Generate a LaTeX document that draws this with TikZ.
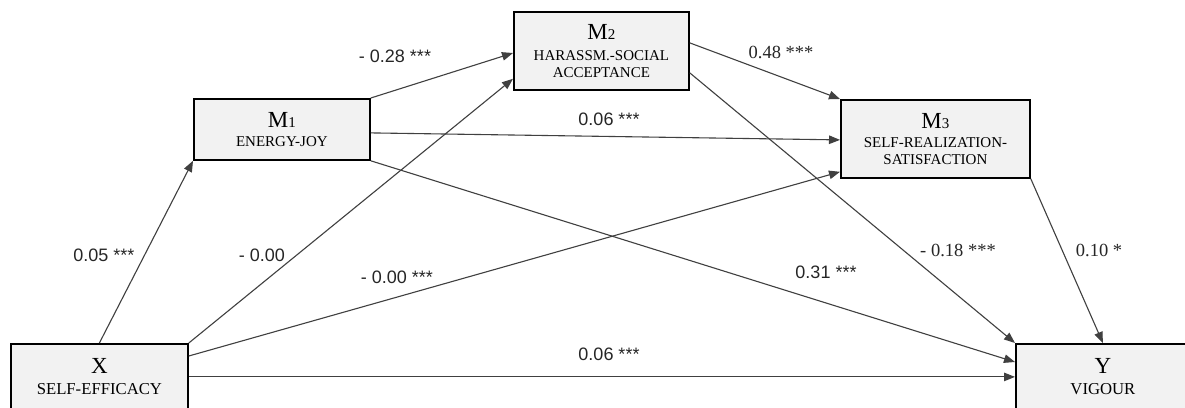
\documentclass[tikz,border=0pt]{standalone}
\usepackage{fontspec}
\setmainfont{Liberation Serif}
\newfontfamily\labfont{Liberation Sans}
\usetikzlibrary{arrows.meta,calc}
\definecolor{boxfill}{HTML}{F2F2F2}
\definecolor{linecol}{HTML}{404040}
\tikzset{
  varbox/.style={draw=black, line width=1.8pt, fill=boxfill, rectangle, anchor=north west,
    inner sep=0pt, align=center, font=\fontsize{15}{17}\selectfont},
  bigbox/.style={varbox, font=\fontsize{16.7}{19}\selectfont},
  arrowpath/.style={draw=linecol, line width=1.1pt, -{Triangle[length=11pt,width=8.5pt]}},
  coef/.style={font=\labfont\fontsize{18}{20}\selectfont, text=black!85, inner sep=0pt},
  coefserif/.style={font=\rmfamily\fontsize{18.5}{20}\selectfont, text=black!85, inner sep=0pt},
}
\newcommand{\bigletter}[1]{{\fontsize{23}{24}\selectfont #1}}
\begin{document}
\begin{tikzpicture}[x=1pt,y=-1pt]
\clip (0,0) rectangle (1185,407);
\fill[white] (0,0) rectangle (1185,407);
% boxes
\node[bigbox, minimum width=177pt, minimum height=66pt] (x) at (10,343) {\bigletter{X}\\[2pt]SELF-EFFICACY};
\node[varbox, minimum width=176pt, minimum height=61pt] (m1) at (193,98) {\bigletter{M}1\\[2pt]ENERGY-JOY};
\node[varbox, minimum width=175pt, minimum height=78pt] (m2) at (513,11) {\bigletter{M}2\\[4pt]HARASSM.-SOCIAL\\ACCEPTANCE};
\node[varbox, minimum width=189pt, minimum height=78pt] (m3) at (840,99) {\bigletter{M}3\\[2pt]SELF-REALIZATION-\\SATISFACTION};
\node[bigbox, minimum width=174pt, minimum height=66pt] (y) at (1015,343) {\bigletter{Y}\\[2pt]VIGOUR};
% paths
\draw[arrowpath] (x.north) -- (m1.south west);
\draw[arrowpath] (x.north east) -- ($(m2.south west)+(0,-12)$);
\draw[arrowpath] ($(x.north east)+(0,13)$) -- ($(m3.south west)+(0,-7)$);
\draw[arrowpath] (x.east) -- (y.west);
\draw[arrowpath] (m1.north east) -- ($(m2.north west)+(0,42)$);
\draw[arrowpath] ($(m1.east)+(0,3.5)$) -- ($(m3.west)+(0,1)$);
\draw[arrowpath] (m1.south east) -- ($(y.north west)+(0,19)$);
\draw[arrowpath] ($(m2.east)+(0,-8)$) -- (m3.north west);
\draw[arrowpath] ($(m2.east)+(0,22)$) -- (y.north west);
\draw[arrowpath] (m3.south east) -- (y.north);
% coefficients
\node[coef] (c1) at (104,255) {0.05 ***};
\node[coef] (c2) at (262,255) {- 0.00};
\node[coef] (c3) at (397,277) {- 0.00 ***};
\node[coef] (c4) at (609,354) {0.06 ***};
\node[coef] (c5) at (395,56) {- 0.28 ***};
\node[coef] (c6) at (609,119) {0.06 ***};
\node[coef] (c7) at (826,272) {0.31 ***};
\node[coefserif] (c8) at (781,52) {0.48 ***};
\node[coefserif] (c9) at (958,250) {- 0.18 ***};
\node[coefserif] (c10) at (1099,250) {0.10 *};
\end{tikzpicture}
\end{document}
